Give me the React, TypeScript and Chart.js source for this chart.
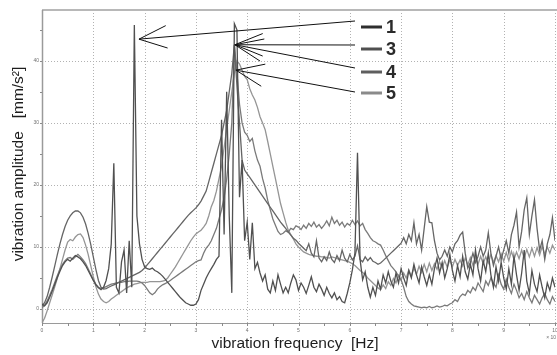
import { useEffect, useRef } from 'react';
import { Chart, registerables } from 'chart.js';

Chart.register(...registerables);

// sample grid of the spectra (Hz), 0.05 Hz spacing from 0 to 10 Hz
const frequencies: number[] = Array.from({ length: 201 }, (_, i) => Math.round(i * 5) / 100);

// series "1"
const series1 = [
  0.8, 0.5, 1.0, 1.9, 2.9, 4.0, 5.1, 6.1, 7.0, 7.6,
  8.0, 7.7, 8.2, 8.6, 8.4, 8.1, 7.6, 7.0, 6.2, 5.4,
  4.6, 3.9, 3.4, 3.1, 3.5, 4.6, 6.5, 10.5, 23.5, 3.5,
  2.6, 7.6, 9.5, 2.6, 11.0, 3.5, 45.8, 15.0, 10.5, 8.0,
  6.8, 6.5, 6.4, 6.6, 6.2, 6.0, 5.7, 5.3, 4.8, 4.3,
  3.8, 3.3, 2.8, 2.3, 1.8, 1.4, 1.0, 0.8, 0.6, 0.6,
  0.8, 1.5, 3.0, 4.0, 5.0, 5.8, 6.5, 7.2, 8.0, 8.5,
  30.5, 12.0, 35.0, 15.0, 2.6, 46.0, 45.0, 18.0, 24.0, 11.0,
  14.0, 8.0, 13.9, 6.5, 7.5, 5.8, 4.5, 5.5, 3.2, 2.6,
  4.5, 3.0, 5.5, 4.0, 2.6, 3.5, 2.6, 4.2, 5.5, 4.7,
  3.0, 4.2, 3.5, 2.5, 3.8, 5.2, 3.5, 2.8, 4.0, 3.2,
  2.2, 3.5, 2.5, 1.8, 2.6, 1.5, 2.0, 1.2, 1.0, 2.5,
  4.2, 6.3, 9.0, 25.2, 8.0, 4.7, 6.0, 3.5, 1.9, 3.5,
  2.2, 4.5, 3.2, 5.5, 4.2, 6.0, 4.5, 3.5, 5.8, 4.2,
  6.5, 5.0, 3.8, 6.2, 5.0, 7.2, 5.5, 4.2, 6.8, 5.2,
  3.8, 5.5, 4.0, 6.5, 8.2, 5.8, 7.5, 5.0, 6.5, 8.8,
  6.2, 4.5, 7.0, 5.2, 8.5, 6.0, 4.8, 7.2, 5.5, 9.5,
  6.5, 4.5, 7.8, 6.0, 9.0, 5.5, 3.5, 6.8, 4.5, 7.5,
  5.0, 3.2, 6.5, 4.0, 8.5, 5.5, 3.0, 5.8, 9.5, 4.5,
  2.5, 6.2, 4.0, 2.8, 5.5, 3.5, 1.8, 4.2, 3.0, 5.0,
  3.5,
];

// series "3"
const series3 = [
  0.5, 1.0, 2.0, 3.5, 5.2, 7.0, 8.8, 10.5, 12.0, 13.3,
  14.3, 15.0, 15.5, 15.8, 15.8, 15.5, 14.8, 13.7, 12.2, 10.4,
  8.4, 6.4, 4.6, 3.5, 3.2, 3.3, 3.5, 3.7, 3.9, 4.1,
  4.3, 4.5, 4.7, 4.9, 5.1, 5.3, 5.5, 5.7, 5.9, 6.2,
  6.6, 7.1, 7.6, 8.1, 8.6, 9.1, 9.6, 10.1, 10.6, 11.1,
  11.6, 12.1, 12.6, 13.1, 13.6, 14.1, 14.6, 15.1, 15.5, 15.9,
  16.3, 16.8, 17.4, 18.2, 19.0, 20.5, 22.0, 23.5, 25.0, 26.5,
  28.0, 30.0, 32.0, 35.0, 38.0, 42.6, 36.0, 30.0, 24.0, 22.4,
  21.8, 21.2, 20.6, 20.0, 19.4, 18.8, 18.2, 17.6, 17.0, 16.4,
  15.8, 15.2, 14.6, 14.0, 13.5, 13.0, 12.4, 11.9, 11.4, 11.1,
  10.6, 10.2, 9.8, 9.4, 10.5, 9.0, 8.4, 11.0, 8.2, 7.6,
  8.4, 7.8, 9.2, 8.0, 7.5, 8.6, 7.8, 9.5, 8.2, 7.6,
  8.8, 7.9, 8.5, 10.2, 8.0, 7.6, 8.4, 7.8, 8.3, 7.7,
  7.5, 7.2, 7.4, 7.8, 8.2, 8.6, 9.0, 9.4, 9.8, 10.2,
  10.6, 11.5, 10.5, 12.0, 11.0, 13.9, 10.5, 12.0, 9.5, 13.0,
  16.5, 14.0, 13.9, 11.0, 9.0, 7.9, 8.5, 9.5, 8.5, 10.0,
  9.2, 10.5, 11.0, 11.9, 12.4, 9.0, 6.6, 7.5, 9.0, 7.5,
  8.5, 10.0, 8.5, 9.5, 12.3, 9.0, 7.0, 8.5, 10.0, 8.0,
  9.5, 11.0, 9.0, 12.0, 13.5, 15.6, 10.0, 12.5, 16.0, 17.9,
  12.0, 15.0, 17.6, 13.0, 9.5, 11.0, 8.0, 10.5, 12.0, 14.7,
  11.0,
];

// series "4"
const series4 = [
  0.2, 0.6, 1.3, 2.2, 3.2, 4.3, 5.4, 6.4, 7.2, 7.8,
  8.2, 8.3, 8.0, 8.4, 8.8, 8.4, 7.9, 7.3, 6.5, 5.6,
  4.7, 4.0, 3.5, 3.3, 3.4, 3.6, 3.8, 4.0, 4.1, 4.2,
  4.3, 4.3, 4.4, 4.4, 4.5, 4.5, 4.5, 4.5, 4.4, 4.2,
  3.8, 3.2, 2.6, 2.3, 2.6, 3.2, 3.6, 3.9, 4.1, 4.3,
  4.6, 4.9, 5.2, 5.5, 5.8, 6.1, 6.4, 6.7, 7.0, 7.3,
  7.6, 7.8, 7.9, 9.0, 9.8, 10.3, 11.0, 12.0, 13.0, 14.5,
  16.0, 18.0, 21.0, 25.0, 30.0, 42.6, 38.0, 33.0, 30.0, 28.5,
  28.0, 27.0, 27.5, 25.5, 24.0, 23.0, 21.0, 19.5, 17.5, 16.0,
  14.5, 13.5, 12.5, 12.0, 12.2, 12.6, 12.4, 13.0, 12.8, 13.4,
  13.2, 12.8, 13.5, 13.0, 13.8, 13.3, 14.0, 13.2, 13.6, 13.0,
  13.5, 14.2, 13.4, 14.8, 13.8, 14.3, 13.5, 14.0, 13.2, 13.8,
  13.5, 14.3, 13.6, 14.2, 13.4, 13.8, 12.8, 12.2, 11.5, 11.0,
  10.8, 10.5, 10.3, 9.5, 8.6, 7.8, 7.0, 6.5, 6.0, 5.3,
  4.7, 3.5, 2.0, 1.2, 0.8, 0.5, 0.4, 0.3, 0.2, 0.3,
  0.2, 0.4, 0.2, 0.3, 0.5, 0.3, 0.4, 0.6, 0.5, 0.8,
  1.0, 1.5, 1.2, 2.0, 2.4, 2.2, 3.0, 2.6, 3.5, 3.0,
  4.2, 3.5, 2.8, 4.5, 3.8, 5.0, 4.2, 3.5, 5.5, 4.0,
  3.2, 4.8, 3.5, 2.5, 4.0, 3.0, 1.8, 2.5, 1.5, 2.8,
  1.8, 1.0, 2.2, 1.5, 0.8, 1.8, 2.5, 1.5, 0.8, 2.0,
  1.2,
];

// series "5"
const series5 = [
  -2.2, -1.5, -0.3, 1.0, 2.3, 3.6, 5.0, 6.5, 8.0, 9.5,
  10.8, 11.2, 11.0, 11.6, 12.0, 12.1, 11.5, 10.3, 8.8, 7.0,
  5.2, 3.6, 2.4, 1.6, 1.2, 1.0, 1.2, 1.6, 1.9, 2.2,
  2.5, 2.8, 3.1, 3.4, 3.6, 3.8, 4.0, 4.1, 4.2, 4.3,
  4.3, 4.3, 4.4, 4.4, 4.4, 4.4, 4.4, 4.5, 4.6, 5.0,
  5.6, 6.2, 6.8, 7.5, 8.2, 8.9, 9.6, 10.3, 11.0, 11.6,
  12.1, 12.4, 12.7, 13.2, 13.8, 15.0, 16.5, 17.5, 19.0, 21.0,
  23.0, 26.0, 29.0, 32.0, 35.0, 38.0, 40.0, 39.5, 38.5, 37.5,
  37.0, 35.5, 34.5, 33.7, 32.5, 31.0, 30.0, 28.9, 27.0, 25.0,
  23.0, 21.0, 19.0, 17.0, 15.5, 14.0, 12.7, 12.0, 11.3, 10.5,
  10.0, 9.6, 9.2, 9.0, 8.8, 8.7, 8.6, 8.5, 8.5, 8.4,
  8.4, 8.3, 8.2, 8.4, 8.3, 8.1, 8.0, 7.9, 7.8, 7.7,
  7.5, 7.3, 7.0, 6.6, 6.2, 5.9, 5.5, 5.0, 4.6, 4.2,
  3.8, 3.4, 3.1, 3.9, 3.3, 4.4, 3.8, 4.9, 4.2, 5.4,
  4.6, 5.8, 5.0, 6.3, 5.3, 6.6, 5.6, 6.9, 5.9, 7.2,
  6.0, 7.4, 6.2, 7.3, 6.4, 7.6, 6.6, 7.8, 6.7, 7.9,
  6.8, 8.0, 7.0, 7.9, 6.9, 8.2, 7.1, 8.3, 7.0, 8.4,
  7.2, 8.5, 7.3, 8.4, 7.4, 8.8, 7.5, 8.6, 7.6, 8.9,
  7.7, 9.1, 7.8, 9.3, 8.0, 9.2, 8.1, 9.5, 8.2, 9.6,
  8.4, 9.8, 8.5, 9.9, 8.7, 10.1, 8.8, 10.0, 9.0, 10.3,
  9.5,
];

const seriesLabels = ['1', '3', '4', '5'];
const seriesValues = [series1, series3, series4, series5];
const seriesColors = ['#505050', '#656565', '#7a7a7a', '#959595'];
const legendDashColors = ['#2e2e2e', '#505050', '#5e5e5e', '#8a8a8a'];

const xTickValues = [0, 1, 2, 3, 4, 5, 6, 7, 8, 9, 10];
const xTickLabels = ['0', '1', '2', '3', '4', '5', '6', '7', '8', '9', '10'];
const yTickValues = [0, 10, 20, 30, 40];
const yTickLabels = ['0', '10', '20', '30', '40'];

// where each label's arrow points (frequency Hz, amplitude mm/s²)
const arrowTargetFreq = [1.89, 3.76, 3.76, 3.78];
const arrowTargetAmp = [43.5, 42.6, 42.6, 38.5];

const FONT = '"Liberation Sans", Arial, sans-serif';

const decor = {
  id: 'decor',
  beforeDatasetsDraw(chart: any) {
    const { ctx, chartArea: a, scales } = chart;
    const x = scales.x;
    const y = scales.y;
    const W = chart.width;
    ctx.save();
    // dotted grid
    ctx.strokeStyle = '#b2b2b2';
    ctx.lineWidth = 1;
    ctx.setLineDash([1, 2]);
    for (const v of xTickValues) {
      if (v === 0) continue;
      const px = Math.round(x.getPixelForValue(v)) + 0.5;
      ctx.beginPath();
      ctx.moveTo(px, a.top);
      ctx.lineTo(px, a.bottom);
      ctx.stroke();
    }
    for (const v of yTickValues) {
      const py = Math.round(y.getPixelForValue(v)) + 0.5;
      ctx.beginPath();
      ctx.moveTo(a.left, py);
      ctx.lineTo(W, py);
      ctx.stroke();
    }
    ctx.setLineDash([]);
    // frame
    ctx.strokeStyle = '#b8b8b8';
    ctx.lineWidth = 2;
    ctx.beginPath();
    ctx.moveTo(a.left, a.top);
    ctx.lineTo(W, a.top);
    ctx.stroke();
    ctx.strokeStyle = '#9a9a9a';
    ctx.lineWidth = 1.5;
    ctx.beginPath();
    ctx.moveTo(a.left + 0.5, a.top);
    ctx.lineTo(a.left + 0.5, a.bottom);
    ctx.stroke();
    ctx.lineWidth = 1;
    ctx.beginPath();
    ctx.moveTo(a.left, a.bottom + 0.5);
    ctx.lineTo(W, a.bottom + 0.5);
    ctx.stroke();
    // minor tick marks
    ctx.strokeStyle = '#8a8a8a';
    for (let v = 0; v <= 10.001; v += 0.5) {
      const px = Math.round(x.getPixelForValue(v)) + 0.5;
      ctx.beginPath();
      ctx.moveTo(px, a.bottom);
      ctx.lineTo(px, a.bottom + 3);
      ctx.stroke();
    }
    for (let v = 0; v <= 45; v += 5) {
      const py = Math.round(y.getPixelForValue(v)) + 0.5;
      ctx.beginPath();
      ctx.moveTo(a.left - 2, py);
      ctx.lineTo(a.left, py);
      ctx.stroke();
    }
    ctx.restore();
  },
  afterDraw(chart: any) {
    const { ctx, chartArea: a, scales } = chart;
    const x = scales.x;
    const y = scales.y;
    ctx.save();
    // tick labels
    ctx.fillStyle = '#707070';
    ctx.font = `5px ${FONT}`;
    ctx.textAlign = 'center';
    ctx.textBaseline = 'middle';
    xTickValues.forEach((v, i) => {
      ctx.fillText(xTickLabels[i], x.getPixelForValue(v), a.bottom + 8);
    });
    ctx.textAlign = 'right';
    yTickValues.forEach((v, i) => {
      ctx.fillText(yTickLabels[i], a.left - 3, y.getPixelForValue(v));
    });
    ctx.textAlign = 'right';
    ctx.fillText('\u00d7 10', chart.width - 1, a.bottom + 15);

    // axis titles
    ctx.fillStyle = '#1e1e1e';
    ctx.font = `15.5px ${FONT}`;
    ctx.textAlign = 'center';
    ctx.textBaseline = 'middle';
    ctx.fillText('vibration frequency  [Hz]', 295, 344);
    ctx.save();
    ctx.translate(19, 164);
    ctx.rotate(-Math.PI / 2);
    ctx.fillText('vibration amplitude   [mm/s\u00b2]', 0, 0);
    ctx.restore();

    // legend with arrows
    const tailX = 355;
    const tailY = [21, 45, 68, 92];
    const rowY = [27, 49, 72, 93];
    ctx.strokeStyle = '#111';
    ctx.lineWidth = 1;
    seriesLabels.forEach((lab, i) => {
      const tx = x.getPixelForValue(arrowTargetFreq[i]);
      const ty = y.getPixelForValue(arrowTargetAmp[i]);
      ctx.beginPath();
      ctx.moveTo(tailX, tailY[i]);
      ctx.lineTo(tx, ty);
      ctx.stroke();
      const ang = Math.atan2(tailY[i] - ty, tailX - tx);
      const L = 30;
      const h = (22 * Math.PI) / 180;
      ctx.beginPath();
      ctx.moveTo(tx + L * Math.cos(ang - h), ty + L * Math.sin(ang - h));
      ctx.lineTo(tx, ty);
      ctx.lineTo(tx + L * Math.cos(ang + h), ty + L * Math.sin(ang + h));
      ctx.stroke();

      ctx.save();
      ctx.strokeStyle = legendDashColors[i];
      ctx.lineWidth = 3;
      ctx.beginPath();
      ctx.moveTo(361, rowY[i]);
      ctx.lineTo(382, rowY[i]);
      ctx.stroke();
      ctx.restore();
      ctx.fillStyle = '#2a2a2a';
      ctx.font = `bold 18px ${FONT}`;
      ctx.textAlign = 'left';
      ctx.textBaseline = 'middle';
      ctx.fillText(lab, 386, rowY[i] + 1);
    });
    ctx.restore();
  },
};

export default function App() {
  const ref = useRef<HTMLCanvasElement | null>(null);
  useEffect(() => {
    if (!ref.current) return;
    const chart = new Chart(ref.current, {
      type: 'line',
      data: {
        datasets: seriesValues.map((vals, i) => ({
          label: seriesLabels[i],
          data: vals.map((v, j) => ({ x: frequencies[j], y: v })),
          borderColor: seriesColors[i],
          borderWidth: 1.3,
          pointRadius: 0,
          tension: 0,
          fill: false,
        })),
      },
      options: {
        animation: false,
        responsive: false,
        devicePixelRatio: 1,
        layout: { padding: { left: 42, top: 10, right: 2, bottom: 32 } },
        scales: {
          x: { type: 'linear', min: 0, max: 10, display: false },
          y: { type: 'linear', min: -2.26, max: 48.2, display: false },
        },
        plugins: { legend: { display: false }, tooltip: { enabled: false } },
      },
      plugins: [decor],
    } as any);
    return () => chart.destroy();
  }, []);
  return (
    <div style={{ position: 'fixed', left: 0, top: 0, width: 557, height: 355, background: '#fff' }}>
      <canvas ref={ref} width={557} height={355} style={{ width: 557, height: 355, display: 'block' }} />
    </div>
  );
}
